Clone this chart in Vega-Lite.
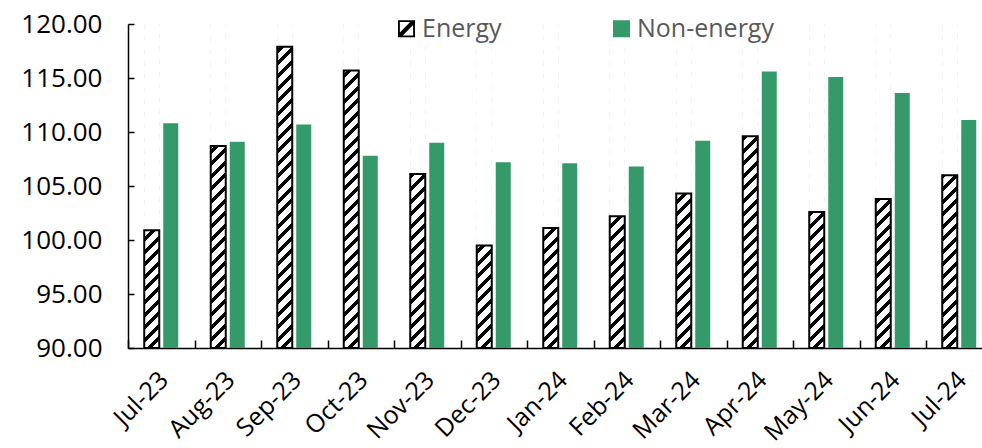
{
  "$schema": "https://vega.github.io/schema/vega-lite/v6.json",
  "width": 854,
  "height": 324,
  "autosize": "none",
  "padding": {"left": 128, "top": 24, "right": 0, "bottom": 100},
  "background": "white",
  "config": {"view": {"stroke": null}, "font": "Open Sans", "axis": {"grid": false}},
  "data": {"values": [
    {"month": "Jul-23", "series": "Energy", "value": 100.9},
    {"month": "Aug-23", "series": "Energy", "value": 108.7},
    {"month": "Sep-23", "series": "Energy", "value": 117.9},
    {"month": "Oct-23", "series": "Energy", "value": 115.7},
    {"month": "Nov-23", "series": "Energy", "value": 106.1},
    {"month": "Dec-23", "series": "Energy", "value": 99.5},
    {"month": "Jan-24", "series": "Energy", "value": 101.1},
    {"month": "Feb-24", "series": "Energy", "value": 102.2},
    {"month": "Mar-24", "series": "Energy", "value": 104.3},
    {"month": "Apr-24", "series": "Energy", "value": 109.6},
    {"month": "May-24", "series": "Energy", "value": 102.6},
    {"month": "Jun-24", "series": "Energy", "value": 103.8},
    {"month": "Jul-24", "series": "Energy", "value": 106.0},
    {"month": "Jul-23", "series": "Non-energy", "value": 110.8},
    {"month": "Aug-23", "series": "Non-energy", "value": 109.1},
    {"month": "Sep-23", "series": "Non-energy", "value": 110.7},
    {"month": "Oct-23", "series": "Non-energy", "value": 107.8},
    {"month": "Nov-23", "series": "Non-energy", "value": 109.0},
    {"month": "Dec-23", "series": "Non-energy", "value": 107.2},
    {"month": "Jan-24", "series": "Non-energy", "value": 107.1},
    {"month": "Feb-24", "series": "Non-energy", "value": 106.8},
    {"month": "Mar-24", "series": "Non-energy", "value": 109.2},
    {"month": "Apr-24", "series": "Non-energy", "value": 115.6},
    {"month": "May-24", "series": "Non-energy", "value": 115.1},
    {"month": "Jun-24", "series": "Non-energy", "value": 113.6},
    {"month": "Jul-24", "series": "Non-energy", "value": 111.1}
  ]},
  "encoding": {
    "x": {
      "field": "month", "type": "nominal", "sort": null,
      "scale": {"range": [0, 864.5], "paddingInner": 0, "paddingOuter": 0},
      "axis": {
        "title": null, "labelAngle": -45, "labelFont": "Open Sans", "labelFontSize": 25,
        "labelColor": "black", "domainColor": "black", "domainWidth": 1.5, "grid": false,
        "tickColor": "black", "tickWidth": 1.5, "tickSize": -8, "tickBand": "extent",
        "labelPadding": 27, "labelOffset": -6
      }
    },
    "xOffset": {
      "field": "series", "type": "nominal",
      "scale": {"domain": ["Energy", "Non-energy"], "paddingInner": 0.2105, "paddingOuter": 0.855}
    }
  },
  "layer": [
    {
      "mark": {"type": "point", "filled": true, "size": 1, "opacity": 1},
      "encoding": {
        "y": {"datum": 95, "type": "quantitative",
          "scale": {"domain": [90, 120], "nice": false, "zero": false},
          "axis": {
            "title": null, "values": [90, 95, 100, 105, 110, 115, 120], "format": ".2f",
            "labelFont": "Open Sans", "labelFontSize": 26, "labelColor": "black",
            "domainColor": "black", "domainWidth": 1.5, "tickColor": "black", "tickWidth": 1.5,
            "tickSize": -6, "labelPadding": 32, "grid": false
          }
        },
        "color": {
          "field": "series", "type": "nominal",
          "scale": {"domain": ["Energy", "Non-energy"], "range": ["black", "#349a69"]},
          "legend": {
            "title": null, "orient": "none", "legendX": 266, "legendY": -8,
            "direction": "horizontal", "symbolSize": 289, "symbolStrokeWidth": 0,
            "labelFont": "Open Sans", "labelFontSize": 25, "labelColor": "#595959",
            "labelOffset": 3, "columnPadding": 107
          }
        },
        "shape": {
          "field": "series", "type": "nominal",
          "scale": {"domain": ["Energy", "Non-energy"], "range": [
            "M-1,-1L1,-1L1,1L-1,1ZM-0.78,-0.78L-0.78,0.78L0.78,0.78L0.78,-0.78ZM-0.78,0.43L0.43,-0.78L0.78,-0.78L0.78,-0.43L-0.43,0.78L-0.78,0.78Z",
            "square"]},
          "legend": {
            "title": null, "orient": "none", "legendX": 266, "legendY": -8,
            "direction": "horizontal", "symbolSize": 289, "symbolStrokeWidth": 0,
            "labelFont": "Open Sans", "labelFontSize": 25, "labelColor": "#595959",
            "labelOffset": 3, "columnPadding": 107
          }
        }
      }
    },
    {
      "transform": [{"filter": "datum.series === 'Energy'"}],
      "mark": {"type": "bar", "fill": {"gradient": "linear", "x1": 0, "y1": 0, "x2": 0.0483, "y2": 1.044, "stops": [
        {"offset": 0, "color": "black"}, {"offset": 0.0148, "color": "black"}, {"offset": 0.0148, "color": "white"}, {"offset": 0.037, "color": "white"},
        {"offset": 0.037, "color": "black"}, {"offset": 0.0518, "color": "black"}, {"offset": 0.0518, "color": "white"}, {"offset": 0.0741, "color": "white"},
        {"offset": 0.0741, "color": "black"}, {"offset": 0.0889, "color": "black"}, {"offset": 0.0889, "color": "white"}, {"offset": 0.1111, "color": "white"},
        {"offset": 0.1111, "color": "black"}, {"offset": 0.1259, "color": "black"}, {"offset": 0.1259, "color": "white"}, {"offset": 0.1481, "color": "white"},
        {"offset": 0.1481, "color": "black"}, {"offset": 0.1629, "color": "black"}, {"offset": 0.1629, "color": "white"}, {"offset": 0.1852, "color": "white"},
        {"offset": 0.1852, "color": "black"}, {"offset": 0.2, "color": "black"}, {"offset": 0.2, "color": "white"}, {"offset": 0.2222, "color": "white"},
        {"offset": 0.2222, "color": "black"}, {"offset": 0.237, "color": "black"}, {"offset": 0.237, "color": "white"}, {"offset": 0.2593, "color": "white"},
        {"offset": 0.2593, "color": "black"}, {"offset": 0.2741, "color": "black"}, {"offset": 0.2741, "color": "white"}, {"offset": 0.2963, "color": "white"},
        {"offset": 0.2963, "color": "black"}, {"offset": 0.3111, "color": "black"}, {"offset": 0.3111, "color": "white"}, {"offset": 0.3333, "color": "white"},
        {"offset": 0.3333, "color": "black"}, {"offset": 0.3481, "color": "black"}, {"offset": 0.3481, "color": "white"}, {"offset": 0.3704, "color": "white"},
        {"offset": 0.3704, "color": "black"}, {"offset": 0.3852, "color": "black"}, {"offset": 0.3852, "color": "white"}, {"offset": 0.4074, "color": "white"},
        {"offset": 0.4074, "color": "black"}, {"offset": 0.4222, "color": "black"}, {"offset": 0.4222, "color": "white"}, {"offset": 0.4444, "color": "white"},
        {"offset": 0.4444, "color": "black"}, {"offset": 0.4592, "color": "black"}, {"offset": 0.4592, "color": "white"}, {"offset": 0.4815, "color": "white"},
        {"offset": 0.4815, "color": "black"}, {"offset": 0.4963, "color": "black"}, {"offset": 0.4963, "color": "white"}, {"offset": 0.5185, "color": "white"},
        {"offset": 0.5185, "color": "black"}, {"offset": 0.5333, "color": "black"}, {"offset": 0.5333, "color": "white"}, {"offset": 0.5556, "color": "white"},
        {"offset": 0.5556, "color": "black"}, {"offset": 0.5704, "color": "black"}, {"offset": 0.5704, "color": "white"}, {"offset": 0.5926, "color": "white"},
        {"offset": 0.5926, "color": "black"}, {"offset": 0.6074, "color": "black"}, {"offset": 0.6074, "color": "white"}, {"offset": 0.6296, "color": "white"},
        {"offset": 0.6296, "color": "black"}, {"offset": 0.6444, "color": "black"}, {"offset": 0.6444, "color": "white"}, {"offset": 0.6667, "color": "white"},
        {"offset": 0.6667, "color": "black"}, {"offset": 0.6815, "color": "black"}, {"offset": 0.6815, "color": "white"}, {"offset": 0.7037, "color": "white"},
        {"offset": 0.7037, "color": "black"}, {"offset": 0.7185, "color": "black"}, {"offset": 0.7185, "color": "white"}, {"offset": 0.7407, "color": "white"},
        {"offset": 0.7407, "color": "black"}, {"offset": 0.7555, "color": "black"}, {"offset": 0.7555, "color": "white"}, {"offset": 0.7778, "color": "white"},
        {"offset": 0.7778, "color": "black"}, {"offset": 0.7926, "color": "black"}, {"offset": 0.7926, "color": "white"}, {"offset": 0.8148, "color": "white"},
        {"offset": 0.8148, "color": "black"}, {"offset": 0.8296, "color": "black"}, {"offset": 0.8296, "color": "white"}, {"offset": 0.8519, "color": "white"},
        {"offset": 0.8519, "color": "black"}, {"offset": 0.8667, "color": "black"}, {"offset": 0.8667, "color": "white"}, {"offset": 0.8889, "color": "white"},
        {"offset": 0.8889, "color": "black"}, {"offset": 0.9037, "color": "black"}, {"offset": 0.9037, "color": "white"}, {"offset": 0.9259, "color": "white"},
        {"offset": 0.9259, "color": "black"}, {"offset": 0.9407, "color": "black"}, {"offset": 0.9407, "color": "white"}, {"offset": 0.963, "color": "white"},
        {"offset": 0.963, "color": "black"}, {"offset": 0.9778, "color": "black"}, {"offset": 0.9778, "color": "white"}, {"offset": 1, "color": "white"}
      ]}},
      "encoding": {
        "y": {"datum": 120, "type": "quantitative"},
        "y2": {"datum": 90}
      }
    },
    {
      "transform": [{"filter": "datum.series === 'Energy'"}],
      "mark": {"type": "bar", "fill": "white", "stroke": "white", "strokeWidth": 1},
      "encoding": {
        "y": {"field": "value", "type": "quantitative"},
        "y2": {"datum": 120}
      }
    },
    {
      "transform": [{"filter": "datum.series === 'Energy'"}],
      "mark": {"type": "bar", "fill": "transparent", "stroke": "black", "strokeWidth": 2},
      "encoding": {
        "y": {"field": "value", "type": "quantitative"},
        "y2": {"datum": 90}
      }
    },
    {
      "transform": [{"filter": "datum.series === 'Non-energy'"}],
      "mark": {"type": "bar", "fill": "#349a69"},
      "encoding": {
        "y": {"field": "value", "type": "quantitative"},
        "y2": {"datum": 90}
      }
    }
  ]
}
